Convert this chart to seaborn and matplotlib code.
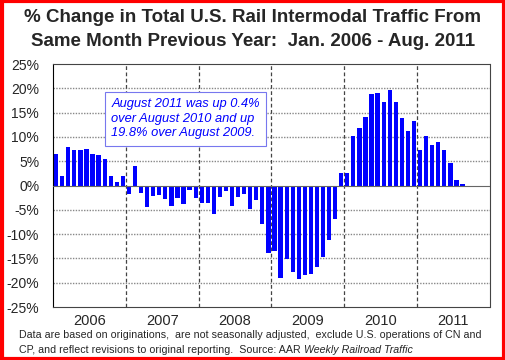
import numpy as np
import pandas as pd
import matplotlib
matplotlib.use("Agg")
import matplotlib.pyplot as plt
import seaborn as sns
from matplotlib.patches import Rectangle

# Monthly % change vs same month previous year, Jan 2006 - Aug 2011
years = ["2006", "2007", "2008", "2009", "2010", "2011"]
pct_2006 = [6.4, 1.9, 7.9, 7.3, 7.4, 7.5, 6.6, 6.2, 5.4, 1.9, 0.7, 1.9]
pct_2007 = [-1.8, 4.0, -1.6, -4.5, -2.1, -2.0, -2.8, -4.2, -2.6, -3.8, -1.0, -2.6]
pct_2008 = [-3.6, -3.6, -5.9, -2.3, -1.2, -4.1, -2.4, -1.8, -4.9, -2.9, -7.9, -13.9]
pct_2009 = [-13.5, -19.0, -15.1, -17.8, -19.2, -18.4, -18.2, -16.8, -14.7, -11.3, -6.9, 2.5]
pct_2010 = [2.5, 10.1, 11.9, 14.2, 18.8, 19.1, 17.3, 19.6, 17.3, 14.0, 11.2, 13.2]
pct_2011 = [7.4, 10.3, 8.4, 9.0, 7.4, 4.6, 1.2, 0.4]

values = pct_2006 + pct_2007 + pct_2008 + pct_2009 + pct_2010 + pct_2011
months = pd.date_range("2006-01-01", periods=len(values), freq="MS").strftime("%Y-%m").tolist()
df = pd.DataFrame({"Month": months, "Change": values})

sns.set_style("white")
plt.rcParams["font.family"] = ["Liberation Sans", "DejaVu Sans"]

fig = plt.figure(figsize=(5.06, 3.6), dpi=100)
ax = fig.add_axes([0.105, 0.147, 0.863, 0.675])

sns.barplot(data=df, x="Month", y="Change", order=months, color="#0000FF",
            saturation=1, width=0.7, linewidth=0, ax=ax)

ax.set_xlim(-0.5, 71.5)
ax.set_ylim(-25, 25)
ax.set_yticks(range(-25, 30, 5))
ax.set_yticklabels([f"{v}%" for v in range(-25, 30, 5)], fontsize=10)
ax.set_xlabel("")
ax.set_ylabel("")

# horizontal grid
for v in range(-20, 25, 5):
    if v == 0:
        ax.axhline(0, color="#666666", lw=0.8, zorder=3)
    else:
        ax.axhline(v, color="#888888", lw=1.0, ls=(0, (1, 1)), zorder=0.5)

# year dividers
for b in range(1, 6):
    ax.axvline(12 * b - 0.5, color="#444444", lw=0.9, ls=(0, (3, 2)), zorder=0.5)

ax.set_xticks([12 * b - 0.5 for b in range(1, 6)])
ax.set_xticklabels([])
ax.tick_params(axis="x", direction="in", length=3)
ax.tick_params(axis="y", length=0, pad=10)
for i, yr in enumerate(years):
    ax.text(12 * i + 5.5, -26.5, yr, ha="center", va="top", fontsize=10.5)

for s in ["top", "right", "bottom"]:
    ax.spines[s].set_linestyle((0, (1, 1)))
    ax.spines[s].set_color("#444444")
ax.spines["left"].set_color("black")

# annotation
ax.text(0.133, 0.86,
        "August 2011 was up 0.4%\nover August 2010 and up\n19.8% over August 2009.",
        transform=ax.transAxes, ha="left", va="top", fontsize=9.3, style="italic",
        color="#0000FF", linespacing=1.3,
        bbox=dict(boxstyle="square,pad=0.5", fc="white", ec="#7777EE", lw=0.8))

fig.text(0.5, 0.952, "% Change in Total U.S. Rail Intermodal Traffic From",
         ha="center", va="center", fontsize=13.5, fontweight="bold")
fig.text(0.5, 0.885, "Same Month Previous Year:  Jan. 2006 - Aug. 2011",
         ha="center", va="center", fontsize=13.5, fontweight="bold")

fig.text(0.038, 0.07,
         "Data are based on originations,  are not seasonally adjusted,  exclude U.S. operations of CN and",
         ha="left", va="center", fontsize=7.7)
src = fig.text(0.038, 0.028,
               "CP, and reflect revisions to original reporting.  Source: AAR ",
               ha="left", va="center", fontsize=7.7)
ax.annotate("Weekly Railroad Traffic", xy=(1, 0.5), xycoords=src,
            ha="left", va="center", fontsize=7.7, style="italic",
            annotation_clip=False)

fig.patches.append(Rectangle((0.003, 0.004), 0.994, 0.992, transform=fig.transFigure,
                             fill=False, ec="red", lw=3))

fig.savefig("out.png", dpi=100)
